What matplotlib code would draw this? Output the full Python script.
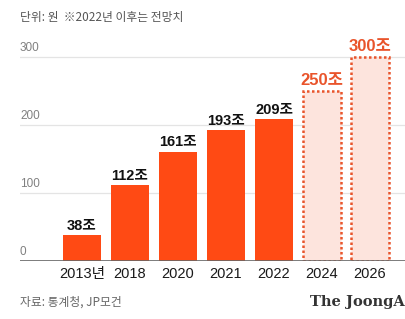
import matplotlib
matplotlib.use("Agg")
import matplotlib.pyplot as plt

plt.rcParams['font.family'] = ['Noto Sans CJK KR', 'DejaVu Sans']
NUMFONT = ['Liberation Sans', 'Noto Sans CJK KR']

categories = ['2013년', '2018', '2020', '2021', '2022', '2024', '2026']
values = [38, 112, 161, 193, 209, 250, 300]
forecast = [False, False, False, False, False, True, True]
yticks = [0, 100, 200, 300]

BAR = '#FF4A14'
FC_EDGE = '#E9542B'
FC_FILL = '#FDE4DD'

fig = plt.figure(figsize=(4.05, 3.19), dpi=100)
ax = fig.add_axes([20/405, 58/319, 385/405, 224.4/319])
ax.set_xlim(-1.29, 6.73)
ax.set_ylim(0, 330)

for y in yticks:
    ax.axhline(y, color='#e4e4e4' if y else '#666666', lw=0.9 if y else 1.2, zorder=0 if y else 3)
    ax.text(-1.29, y + 4, str(y), color='#808080', fontsize=8.5, ha='left', va='bottom', family=NUMFONT)

xs = list(range(len(categories)))
for x, v, f in zip(xs, values, forecast):
    if f:
        ax.bar(x, v, width=0.79, color=FC_FILL, edgecolor=FC_EDGE, linestyle=(0, (1, 1)), linewidth=1.8, zorder=2)
        ax.text(x, v + 5, f'{v}조', ha='center', va='bottom', fontsize=12, fontweight='bold', color=FC_EDGE, family=NUMFONT)
    else:
        ax.bar(x, v, width=0.79, color=BAR, zorder=2)
        ax.text(x, v + 3, f'{v}조', ha='center', va='bottom', fontsize=10.5, fontweight='bold', color='#111111', family=NUMFONT)

ax.set_xticks(xs)
ax.set_xticklabels(categories, fontsize=10.5, color='#1a1a1a', family=NUMFONT)
ax.tick_params(axis='x', length=0, pad=4)
ax.set_yticks([])
for s in ax.spines.values():
    s.set_visible(False)

fig.text(20/405, 1 - 17/319, '단위: 원  ※2022년 이후는 전망치', fontsize=8.5, color='#555555', va='center', ha='left')
fig.text(20/405, 1 - 302/319, '자료: 통계청, JP모건', fontsize=8.5, color='#666666', va='center', ha='left')
fig.text(310/405, 1 - 302/319, 'The JoongAng', fontsize=10.5, fontweight='bold', family='DejaVu Serif', color='#333333', va='center', ha='left')

fig.savefig('out.png', dpi=100)
